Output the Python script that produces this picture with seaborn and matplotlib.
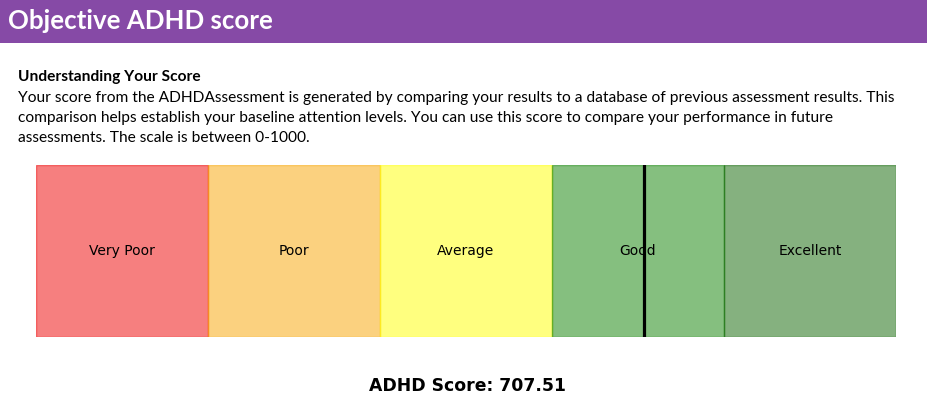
import matplotlib.pyplot as plt
import matplotlib.patches as mpatches
from matplotlib.colors import to_rgba
import pandas as pd
import seaborn as sns

# Score bands and the patient's score
bands = ['Very Poor', 'Poor', 'Average', 'Good', 'Excellent']
band_lo = [0, 200, 400, 600, 800]
band_hi = [200, 400, 600, 800, 1000]
band_colors = ['#ee0000', '#f9a500', '#ffff00', '#0c8000', '#0c6400']
score = 707.51

title = 'Objective ADHD score'
subtitle = 'Understanding Your Score'
body = ['Your score from the ADHDAssessment is generated by comparing your results to a database of previous assessment results. This',
        'comparison helps establish your baseline attention levels. You can use this score to compare your performance in future',
        'assessments. The scale is between 0-1000.']

df = pd.DataFrame({
    'band': bands,
    'mid': [(a + b) / 2 for a, b in zip(band_lo, band_hi)],
    'height': [1] * len(bands),
})

sns.set_theme(style='white')
W, H = 928, 413
fig = plt.figure(figsize=(W / 100, H / 100), dpi=100)

# Purple header band
fig.patches.append(mpatches.Rectangle((0, 1 - 43 / H), 1, 43 / H, transform=fig.transFigure,
                                      facecolor='#864aa6', edgecolor='none', zorder=0))
fig.text(8 / W, 1 - 21 / H, title, color='white', fontsize=18.6, fontweight='bold',
         family=['Lato', 'DejaVu Sans'], va='center', ha='left')

fig.text(18 / W, 1 - 77 / H, subtitle, fontsize=11.2, fontweight='bold',
         family=['Lato', 'DejaVu Sans'], va='center', ha='left', color='black')
for i, line in enumerate(body):
    fig.text(18 / W, 1 - (98 + 20 * i) / H, line, fontsize=11.2,
             family=['Lato', 'DejaVu Sans'], va='center', ha='left', color='black')

# Score bar
ax = fig.add_axes([36 / W, 1 - 337 / H, 860 / W, 172 / H])
sns.barplot(data=df, x='mid', y='height', hue='band', palette=band_colors,
            native_scale=True, width=1, legend=False, ax=ax)
for patch, c in zip(ax.patches, band_colors):
    patch.set_facecolor(to_rgba(c, 0.5))
    patch.set_edgecolor(to_rgba(c, 0.5))
    patch.set_linewidth(1)
for name, m in zip(df['band'], df['mid']):
    ax.text(m, 0.5, name, ha='center', va='center', fontsize=10, color='black',
            family='DejaVu Sans')
ax.axvline(score, color='black', linewidth=2.3)
ax.set_xlim(0, 1000)
ax.set_ylim(0, 1)
ax.axis('off')

fig.text(468 / W, 1 - 386 / H, f'ADHD Score: {score}', fontsize=12.4, fontweight='bold',
         family='DejaVu Sans', ha='center', va='center', color='black')

fig.savefig('out.png', dpi=100)
